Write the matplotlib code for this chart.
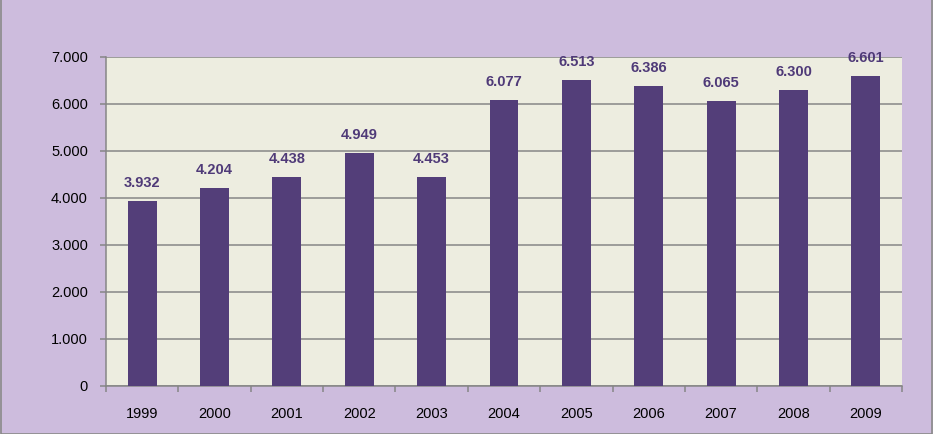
import numpy as np
import matplotlib
matplotlib.use("Agg")
import matplotlib.pyplot as plt
from matplotlib.patches import Rectangle
from matplotlib.ticker import FuncFormatter, FixedLocator

# ── Data ──────────────────────────────────────────────────────────────────────
years = ["1999", "2000", "2001", "2002", "2003", "2004",
         "2005", "2006", "2007", "2008", "2009"]
values = [3932, 4204, 4438, 4949, 4453, 6077, 6513, 6386, 6065, 6300, 6601]

# ── Style ─────────────────────────────────────────────────────────────────────
FIG_BG = "#CDBCDD"
PLOT_BG = "#EDEDE0"
BAR_COLOR = "#533E79"
LABEL_COLOR = "#4F3A78"
GRID_COLOR = "#868686"

plt.rcParams["font.family"] = ["Liberation Sans", "DejaVu Sans"]


def dot_thousands(v, pos=None):
    return f"{int(round(v)):,}".replace(",", ".")


fig = plt.figure(figsize=(9.33, 4.34), dpi=100, facecolor=FIG_BG)
ax = fig.add_axes([0.1136, 0.1106, 0.8532, 0.7581], facecolor=PLOT_BG)

x = np.arange(len(years))
bars = ax.bar(x, values, width=0.4, color=BAR_COLOR, zorder=3)

for xi, v in zip(x, values):
    ax.annotate(dot_thousands(v), (xi, v), xytext=(0, 8), textcoords="offset points",
                ha="center", va="bottom", fontsize=10.5, fontweight="bold",
                color=LABEL_COLOR, annotation_clip=False)

ax.set_xlim(-0.5, len(years) - 0.5)
ax.set_ylim(0, 7000)
ax.set_yticks(np.arange(0, 7001, 1000))
ax.yaxis.set_major_formatter(FuncFormatter(dot_thousands))
ax.yaxis.grid(True, color=GRID_COLOR, linewidth=1.1, zorder=1)

ax.set_xticks(x)
ax.set_xticklabels(years)
ax.xaxis.set_minor_locator(FixedLocator(np.arange(-0.5, len(years), 1.0)))
ax.tick_params(axis="x", which="major", length=0, pad=15, labelsize=10.5)
ax.tick_params(axis="x", which="minor", length=4, color=GRID_COLOR, width=1.1)
ax.tick_params(axis="y", length=4, color=GRID_COLOR, width=1.1, pad=9, labelsize=10.5)

for side in ["top", "right"]:
    ax.spines[side].set_visible(False)
for side in ["left", "bottom"]:
    ax.spines[side].set_color(GRID_COLOR)
    ax.spines[side].set_linewidth(1.1)

# thin border round the chart area
fig.patches.append(Rectangle((0.001, 0.001), 0.998, 1.2, transform=fig.transFigure,
                             fill=False, edgecolor="#8A8A8A", linewidth=1.2))

fig.savefig("out.png", dpi=100, facecolor=FIG_BG)
